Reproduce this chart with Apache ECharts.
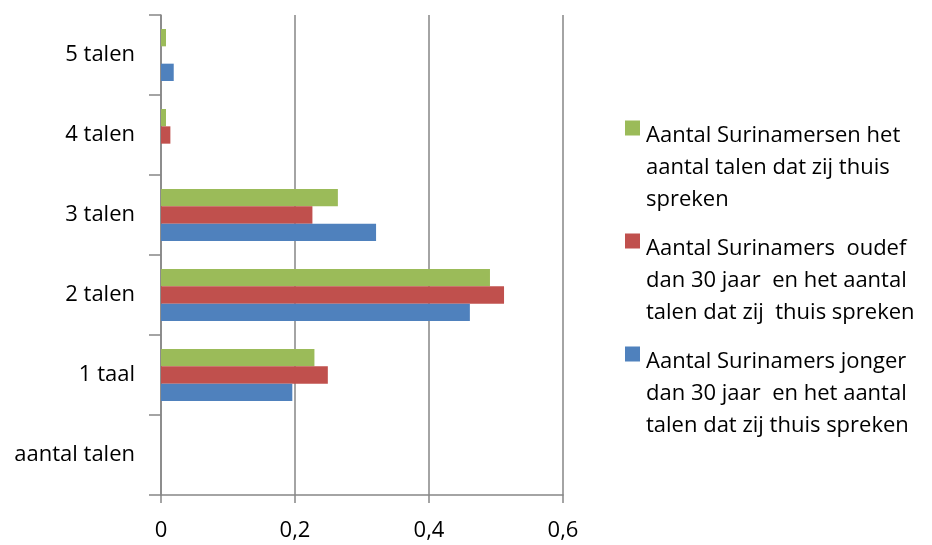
<!DOCTYPE html>
<html><head><meta charset="utf-8">
<script src="https://cdn.jsdelivr.net/npm/echarts@6/dist/echarts.min.js"></script>
<style>html,body{margin:0;padding:0;background:#fff}#c{width:932px;height:545px}</style>
</head><body><div id="c"></div>
<script>
const categories = ['aantal talen', '1 taal', '2 talen', '3 talen', '4 talen', '5 talen'];
const jonger = [0, 0.196, 0.461, 0.321, 0, 0.019];
const ouder = [0, 0.249, 0.512, 0.226, 0.014, 0];
const totaal = [0, 0.229, 0.491, 0.264, 0.0075, 0.0075];
const xTicks = [0, 0.2, 0.4, 0.6];
const nameTotaal = 'Aantal Surinamersen het\naantal talen dat zij thuis\nspreken';
const nameOuder = 'Aantal Surinamers  oudef\ndan 30 jaar  en het aantal\ntalen dat zij  thuis spreken';
const nameJonger = 'Aantal Surinamers jonger\ndan 30 jaar  en het aantal\ntalen dat zij thuis spreken';

const FONT = 'Open Sans';
const FS = 22;
const chart = echarts.init(document.getElementById('c'), null, {renderer: 'canvas'});
const iconPath = 'path://M0,0h15v15h-15z M0,95h0.01v0.01h-0.01z';
chart.setOption({
  animation: false,
  textStyle: {fontFamily: FONT},
  grid: {left: 161, right: 369, top: 15, bottom: 50, containLabel: false},
  legend: {
    orient: 'vertical', left: 620, top: 115, itemGap: 17,
    itemWidth: 15, itemHeight: 95, icon: iconPath,
    data: [nameTotaal, nameOuder, nameJonger],
    textStyle: {fontFamily: FONT, fontSize: FS, color: '#000', lineHeight: 32, padding: [0, 0, 0, 1]}
  },
  xAxis: {
    type: 'value', min: 0, max: 0.6, interval: 0.2,
    axisLine: {show: true, lineStyle: {color: '#868686', width: 1.5}},
    axisTick: {show: true, length: 8, lineStyle: {color: '#868686', width: 1.5}},
    splitLine: {show: true, lineStyle: {color: '#868686', width: 1.5}},
    axisLabel: {margin: 25, fontSize: FS, color: '#000', fontFamily: FONT,
      formatter: v => String(xTicks.find(t => Math.abs(t - v) < 1e-9) ?? v).replace('.', ',')}
  },
  yAxis: {
    type: 'category', data: categories,
    axisLine: {show: true, lineStyle: {color: '#868686', width: 1.5}},
    axisTick: {show: true, length: 12, lineStyle: {color: '#868686', width: 1.5}},
    axisLabel: {margin: 26, fontSize: FS, color: '#000', fontFamily: FONT}
  },
  series: [
    {name: nameTotaal, type: 'bar', data: totaal, itemStyle: {color: '#9BBB59'}, barGap: '0%', barCategoryGap: '35%'},
    {name: nameOuder, type: 'bar', data: ouder, itemStyle: {color: '#C0504D'}},
    {name: nameJonger, type: 'bar', data: jonger, itemStyle: {color: '#4F81BD'}}
  ]
});
</script></body></html>
